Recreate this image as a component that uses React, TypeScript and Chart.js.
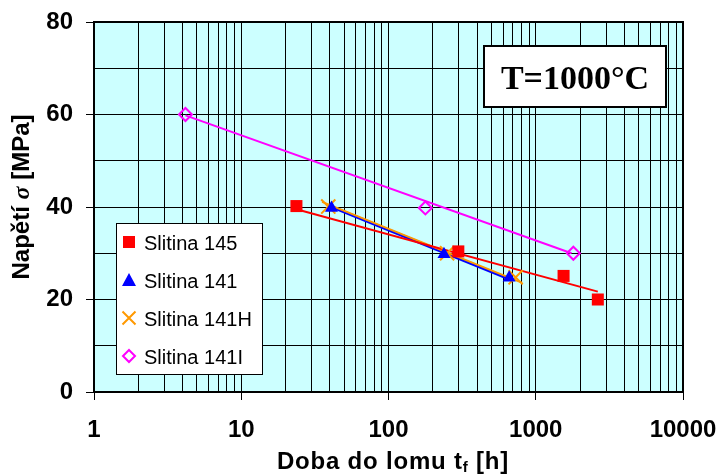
import React, { useEffect, useRef } from 'react';
import { Chart, registerables } from 'chart.js';

Chart.register(...registerables);

// ---- data ----
const seriesNames = ['Slitina 145', 'Slitina 141', 'Slitina 141H', 'Slitina 141I'];

const s145X = [23.7, 298, 1545, 2640];
const s145Y = [40.2, 30.4, 25.1, 20.0];
const s141X = [41, 238, 660];
const s141Y = [39.8, 29.8, 24.7];
const s141HX = [39, 250, 730];
const s141HY = [40.1, 30.0, 24.8];
const s141IX = [4.18, 178, 1800];
const s141IY = [60, 39.8, 30.0];

// trend lines (end points)
const t145X = [23.7, 2640];
const t145Y = [39.5, 21.7];
const t141X = [40, 690];
const t141Y = [40.2, 24.2];
const t141HX = [35.4, 810];
const t141HY = [41.1, 23.6];
const t141IX = [4.18, 1750];
const t141IY = [59.8, 30.0];

const xMajorTicks = [1, 10, 100, 1000, 10000];
const yLabelTicks = [0, 20, 40, 60, 80];

const colors = ['#FF0000', '#0000FF', '#FF9900', '#FF00FF'];

const FONT = '"Liberation Sans", Arial, sans-serif';
const SERIF = '"Liberation Serif", "Times New Roman", serif';

const pts = (xs: number[], ys: number[]) => xs.map((x, i) => ({ x, y: ys[i] }));

const decoPlugin = {
  id: 'deco',
  beforeDraw(chart: any) {
    const { ctx, chartArea: a } = chart;
    ctx.save();
    ctx.fillStyle = '#CCFFFF';
    ctx.fillRect(a.left, a.top, a.right - a.left, a.bottom - a.top);
    ctx.restore();
  },
  afterDraw(chart: any) {
    const { ctx, chartArea: a } = chart;
    ctx.save();
    // plot border
    ctx.strokeStyle = '#000';
    ctx.lineWidth = 2;
    ctx.strokeRect(a.left, a.top, a.right - a.left, a.bottom - a.top);

    // temperature box
    ctx.fillStyle = '#fff';
    ctx.fillRect(484, 46, 182, 61);
    ctx.strokeRect(484, 46, 182, 61);
    ctx.fillStyle = '#000';
    ctx.font = `bold 34px ${SERIF}`;
    ctx.textAlign = 'center';
    ctx.textBaseline = 'alphabetic';
    ctx.fillText('T=1000°C', 575, 89);

    // legend
    ctx.lineWidth = 1;
    ctx.fillStyle = '#fff';
    ctx.fillRect(116.5, 223.5, 146, 151);
    ctx.strokeStyle = '#000';
    ctx.strokeRect(116.5, 223.5, 146, 151);
    const rows = [242, 280, 318, 356];
    ctx.font = `20px ${FONT}`;
    ctx.textAlign = 'left';
    rows.forEach((cy, i) => {
      const cx = 129;
      ctx.save();
      if (i === 0) {
        ctx.fillStyle = colors[0];
        ctx.fillRect(cx - 6, cy - 6, 12, 12);
      } else if (i === 1) {
        ctx.fillStyle = colors[1];
        ctx.beginPath();
        ctx.moveTo(cx, cy - 7);
        ctx.lineTo(cx + 7, cy + 6);
        ctx.lineTo(cx - 7, cy + 6);
        ctx.closePath();
        ctx.fill();
      } else if (i === 2) {
        ctx.strokeStyle = colors[2];
        ctx.lineWidth = 2;
        ctx.beginPath();
        ctx.moveTo(cx - 6.5, cy - 6.5);
        ctx.lineTo(cx + 6.5, cy + 6.5);
        ctx.moveTo(cx + 6.5, cy - 6.5);
        ctx.lineTo(cx - 6.5, cy + 6.5);
        ctx.stroke();
      } else {
        ctx.strokeStyle = colors[3];
        ctx.lineWidth = 2;
        ctx.beginPath();
        ctx.moveTo(cx, cy - 6);
        ctx.lineTo(cx + 6, cy);
        ctx.lineTo(cx, cy + 6);
        ctx.lineTo(cx - 6, cy);
        ctx.closePath();
        ctx.stroke();
      }
      ctx.restore();
      ctx.fillStyle = '#000';
      ctx.fillText(seriesNames[i], 144, cy + 7.5);
    });

    // x axis title with subscript
    ctx.fillStyle = '#000';
    ctx.textAlign = 'left';
    ctx.textBaseline = 'alphabetic';
    (ctx as any).letterSpacing = '0.8px';
    const boldF = `bold 24px ${FONT}`;
    const subF = `bold 15px ${FONT}`;
    const p1 = 'Doba do lomu t';
    const p2 = 'f';
    const p3 = ' [h]';
    ctx.font = boldF;
    const w1 = ctx.measureText(p1).width;
    const w3 = ctx.measureText(p3).width;
    ctx.font = subF;
    const w2 = ctx.measureText(p2).width;
    const total = w1 + w2 + w3;
    const x0 = 393 - total / 2;
    const base = 469;
    ctx.font = boldF;
    ctx.fillText(p1, x0, base);
    ctx.font = subF;
    ctx.fillText(p2, x0 + w1, base + 3);
    ctx.font = boldF;
    ctx.fillText(p3, x0 + w1 + w2, base);
    (ctx as any).letterSpacing = '0px';

    // y axis title, rotated
    ctx.save();
    ctx.translate(29, 197);
    ctx.rotate(-Math.PI / 2);
    const q1 = 'Napětí ';
    const q2 = 'σ';
    const q3 = ' [MPa]';
    const italF = `italic bold 24px ${SERIF}`;
    ctx.font = boldF;
    const v1 = ctx.measureText(q1).width;
    const v3 = ctx.measureText(q3).width;
    ctx.font = italF;
    const v2 = ctx.measureText(q2).width;
    const tot = v1 + v2 + v3;
    const y0 = -tot / 2;
    ctx.font = boldF;
    ctx.fillText(q1, y0, 0);
    ctx.font = italF;
    ctx.fillText(q2, y0 + v1, 0);
    ctx.font = boldF;
    ctx.fillText(q3, y0 + v1 + v2, 0);
    ctx.restore();

    ctx.restore();
  },
};

export default function App() {
  const ref = useRef<HTMLCanvasElement | null>(null);

  useEffect(() => {
    if (!ref.current) return;
    const chart = new Chart(ref.current, {
      type: 'scatter',
      data: {
        datasets: [
          {
            label: seriesNames[0],
            data: pts(s145X, s145Y),
            pointStyle: 'rect',
            pointRadius: 8.5,
            backgroundColor: colors[0],
            borderColor: colors[0],
            borderWidth: 0,
            showLine: false,
          },
          {
            label: seriesNames[1],
            data: pts(s141X, s141Y),
            pointStyle: 'triangle',
            pointRadius: 7.5,
            backgroundColor: colors[1],
            borderColor: colors[1],
            borderWidth: 0,
            showLine: false,
          },
          {
            label: seriesNames[2],
            data: pts(s141HX, s141HY),
            pointStyle: 'crossRot',
            pointRadius: 10,
            backgroundColor: colors[2],
            borderColor: colors[2],
            borderWidth: 2,
            showLine: false,
          },
          {
            label: seriesNames[3],
            data: pts(s141IX, s141IY),
            pointStyle: 'rectRot',
            pointRadius: 6.5,
            backgroundColor: 'rgba(0,0,0,0)',
            borderColor: colors[3],
            borderWidth: 2,
            showLine: false,
          },
          {
            label: 'trend 145',
            data: pts(t145X, t145Y),
            showLine: true,
            pointRadius: 0,
            borderColor: colors[0],
            borderWidth: 2,
          },
          {
            label: 'trend 141H',
            data: pts(t141HX, t141HY),
            showLine: true,
            pointRadius: 0,
            borderColor: colors[2],
            borderWidth: 2,
          },
          {
            label: 'trend 141',
            data: pts(t141X, t141Y),
            showLine: true,
            pointRadius: 0,
            borderColor: colors[1],
            borderWidth: 3,
          },
          {
            label: 'trend 141I',
            data: pts(t141IX, t141IY),
            showLine: true,
            pointRadius: 0,
            borderColor: colors[3],
            borderWidth: 2,
          },
        ],
      },
      options: {
        responsive: false,
        animation: false,
        devicePixelRatio: 1,
        layout: { padding: { left: 0, top: 22, right: 39, bottom: 0 } },
        plugins: {
          legend: { display: false },
          tooltip: { enabled: false },
        },
        scales: {
          x: {
            type: 'logarithmic',
            min: 1,
            max: 10000,
            afterFit: (s: any) => {
              s.height = 84;
              s.paddingLeft = 0;
              s.paddingRight = 0;
              s.paddingTop = 0;
              s.paddingBottom = 0;
            },
            afterBuildTicks: (s: any) => {
              const t: { value: number }[] = [];
              for (let i = 0; i < xMajorTicks.length; i++) {
                const d = xMajorTicks[i];
                if (i === xMajorTicks.length - 1) {
                  t.push({ value: d });
                } else {
                  for (let k = 1; k <= 9; k++) t.push({ value: k * d });
                }
              }
              s.ticks = t;
            },
            ticks: {
              autoSkip: false,
              maxRotation: 0,
              padding: 16,
              color: '#000',
              font: { family: FONT, size: 24, weight: 'bold' },
              callback: (v: any) => (xMajorTicks.includes(Number(v)) ? String(v) : ''),
            },
            grid: {
              color: '#000',
              lineWidth: 1,
              tickLength: 8,
              tickColor: (c: any) =>
                c.tick && xMajorTicks.includes(c.tick.value) ? '#000' : 'rgba(0,0,0,0)',
            },
            border: { display: true, color: '#000', width: 2 },
          },
          y: {
            min: 0,
            max: 80,
            afterFit: (s: any) => {
              s.width = 94;
              s.paddingLeft = 0;
              s.paddingRight = 0;
              s.paddingTop = 0;
              s.paddingBottom = 0;
            },
            ticks: {
              stepSize: 10,
              padding: 13,
              color: '#000',
              font: { family: FONT, size: 24, weight: 'bold' },
              callback: (v: any) => (yLabelTicks.includes(Number(v)) ? String(v) : ''),
            },
            grid: {
              color: '#000',
              lineWidth: 1,
              tickLength: 8,
              tickColor: (c: any) =>
                c.tick && yLabelTicks.includes(c.tick.value) ? '#000' : 'rgba(0,0,0,0)',
            },
            border: { display: true, color: '#000', width: 2 },
          },
        },
      },
      plugins: [decoPlugin],
    });
    return () => chart.destroy();
  }, []);

  return (
    <div style={{ position: 'absolute', left: 0, top: 0, width: 722, height: 476, background: '#fff' }}>
      <canvas ref={ref} width={722} height={476} style={{ display: 'block' }} />
    </div>
  );
}
